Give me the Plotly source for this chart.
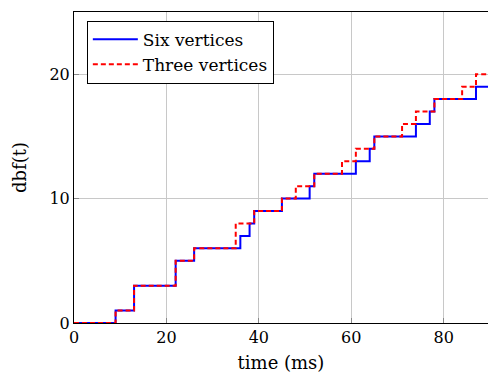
import plotly.graph_objects as go

six_x = [0, 9, 13, 22, 26, 36, 38, 39, 45, 51, 52, 61, 64, 65, 74, 77, 78, 87, 90]
six_y = [0, 1, 3, 5, 6, 7, 8, 9, 10, 11, 12, 13, 14, 15, 16, 17, 18, 19, 19]
three_x = [0, 9, 13, 22, 26, 35, 39, 45, 48, 52, 58, 61, 65, 71, 74, 78, 84, 87, 90]
three_y = [0, 1, 3, 5, 6, 8, 9, 10, 11, 12, 13, 14, 15, 16, 17, 18, 19, 20, 20]
x_ticks = [0, 20, 40, 60, 80]
y_ticks = [0, 10, 20]

FONT = "DejaVu Serif"

fig = go.Figure()
fig.add_trace(go.Scatter(x=six_x, y=six_y, mode="lines", line_shape="hv",
                         name="Six vertices", line=dict(color="#0000ff", width=2)))
fig.add_trace(go.Scatter(x=three_x, y=three_y, mode="lines", line_shape="hv",
                         name="Three vertices",
                         line=dict(color="#ff0000", width=2, dash="5px,3px")))

fig.update_layout(
    width=488, height=373,
    margin=dict(l=74, r=0, t=12, b=50),
    paper_bgcolor="white", plot_bgcolor="white",
    font=dict(family=FONT, size=16, color="black"),
    showlegend=True,
    legend=dict(x=0.031, y=0.972, xanchor="left", yanchor="top",
                bgcolor="white", bordercolor="black", borderwidth=1,
                font=dict(family=FONT, size=17, color="black"),
                tracegroupgap=0, itemwidth=45),
    xaxis=dict(range=[0, 89.6], tickvals=x_ticks, showgrid=True,
               gridcolor="#c8c8c8", gridwidth=1, zeroline=False,
               showline=True, linecolor="black", linewidth=1, mirror=True,
               ticks="inside", ticklen=5, tickcolor="#888888",
               title=dict(text="time (ms)", standoff=12,
                          font=dict(family=FONT, size=18)),
               tickfont=dict(family=FONT, size=16)),
    yaxis=dict(range=[0, 25], tickvals=y_ticks, showgrid=True,
               gridcolor="#c8c8c8", gridwidth=1, zeroline=False,
               showline=True, linecolor="black", linewidth=1, mirror=True,
               ticks="inside", ticklen=5, tickcolor="#888888",
               title=dict(text="dbf(t)", standoff=18,
                          font=dict(family=FONT, size=18)),
               tickfont=dict(family=FONT, size=16)),
)

fig.write_html("out.html")
